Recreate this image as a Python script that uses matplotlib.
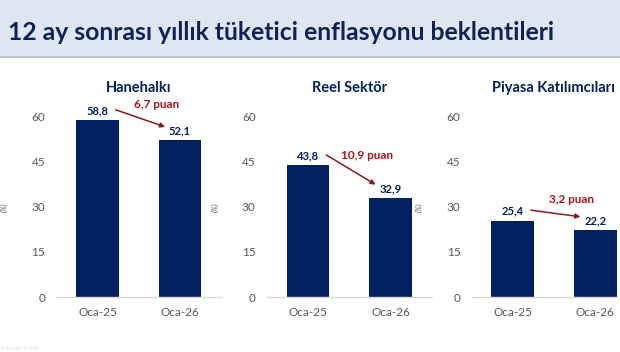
import matplotlib.pyplot as plt
from matplotlib.patches import Rectangle

# veriler
title = '12 ay sonrası yıllık tüketici enflasyonu beklentileri'
panels = ['Hanehalkı', 'Reel Sektör', 'Piyasa Katılımcıları']
categories = ['Oca-25', 'Oca-26']
hanehalki = [58.8, 52.1]
reel = [43.8, 32.9]
piyasa = [25.4, 22.2]
diffs = ['6,7 puan', '10,9 puan', '3,2 puan']
yticks = [0, 15, 30, 45, 60]

navy = '#002060'
red = '#b0121b'
gray = '#595959'

plt.rcParams['font.family'] = ['Lato', 'DejaVu Sans']

fig = plt.figure(figsize=(6.2, 3.52), dpi=100)

# başlık bandı
fig.patches.append(Rectangle((0, 1 - 57 / 352), 1, 57 / 352, transform=fig.transFigure,
                             facecolor='#dde6f1', edgecolor='none', zorder=0))
fig.lines.append(plt.Line2D([0, 1], [1 - 57 / 352] * 2, transform=fig.transFigure,
                            color='#b8bcc4', lw=1.2))
fig.text(8 / 620, 1 - 32 / 352, title, fontsize=17.8, fontweight='bold', color='#0f2257',
         va='center', ha='left')

lefts = [56.25 / 620, 266.75 / 620, 471.5 / 620]
series = [hanehalki, reel, piyasa]

for left, name, vals, diff in zip(lefts, panels, series, diffs):
    ax = fig.add_axes([left, 1 - 297 / 352, 165 / 620, (297 - 116.7) / 352])
    x = range(len(categories))
    ax.bar(x, vals, width=0.52, color=navy, zorder=2)
    ax.set_xlim(-0.5, 1.5)
    ax.set_ylim(0, 60)
    ax.set_yticks(yticks)
    ax.set_xticks(list(x))
    ax.set_xticklabels(categories)
    ax.tick_params(axis='both', length=0, labelsize=8.5, labelcolor=gray)
    ax.tick_params(axis='y', pad=8)
    ax.tick_params(axis='x', pad=7)
    for s in ['top', 'right', 'left']:
        ax.spines[s].set_visible(False)
    ax.spines['bottom'].set_color('#d9d9d9')
    ax.spines['bottom'].set_linewidth(1)
    ax.set_ylabel('(%)', fontsize=5.5, color='#44546a', style='italic', labelpad=17)
    ax.set_title(name, fontsize=10.5, fontweight='bold', color=navy, pad=18)

    for xi, v in zip(x, vals):
        ax.annotate(f'{v:.1f}'.replace('.', ','), (xi, v), xytext=(0, 3),
                    textcoords='offset points', ha='center', va='bottom',
                    fontsize=8, fontweight='bold', color=navy)

    # düşüş oku
    y0 = vals[0] + 3.5
    y1 = vals[1] + 4.5
    ax.annotate('', xy=(0.82, y1), xytext=(0.22, y0),
                arrowprops=dict(arrowstyle='-|>', color='#8b1a1a', lw=1.1,
                                mutation_scale=7, shrinkA=0, shrinkB=0))
    ax.annotate(diff, (0.71, (y0 + y1) / 2), xytext=(0, 10),
                textcoords='offset points', ha='center', va='center',
                fontsize=8.5, fontweight='bold', color=red)

fig.text(2 / 620, 2 / 352, 'Kaynak: TCMB', fontsize=4, color='#e0e0e0')

fig.savefig('out.png', dpi=100)
